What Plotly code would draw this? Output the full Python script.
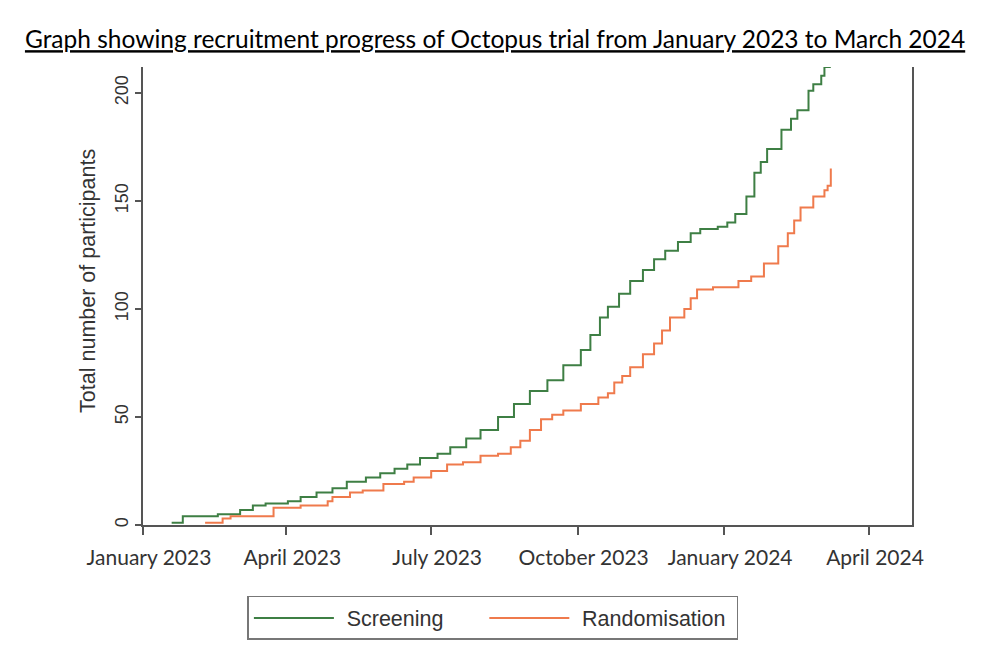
import plotly.graph_objects as go
import pandas as pd

# ---- data ----
start = pd.Timestamp("2023-01-01")

screen_day = [18, 25, 47, 61, 69, 77, 91, 99, 109, 119, 128, 140, 149, 158, 166, 174,
              185, 193, 203, 212, 223, 233, 243, 254, 264, 275, 281, 287, 292, 299, 306,
              314, 321, 328, 336, 344, 350, 361, 367, 372, 379, 384, 388, 392, 401, 407,
              411, 418, 421, 426, 428, 432]
screen_val = [1, 4, 5, 7, 9, 10, 11, 13, 15, 17, 20, 22, 24, 26, 28, 31,
              33, 36, 40, 44, 50, 56, 62, 67, 74, 81, 88, 96, 101, 107, 113,
              118, 123, 127, 131, 135, 137, 138, 140, 144, 152, 163, 168, 174, 183, 188,
              192, 201, 204, 208, 212, 212]

rand_day = [39, 50, 55, 82, 99, 116, 119, 130, 138, 151, 164, 170, 181, 191, 201, 212,
            223, 231, 237, 243, 250, 257, 264, 275, 286, 292, 296, 301, 306, 314, 321,
            326, 331, 340, 344, 348, 358, 374, 382, 390, 399, 405, 409, 413, 421, 428,
            430, 432]
rand_val = [1, 3, 4, 8, 9, 11, 13, 15, 16, 19, 20, 22, 25, 28, 29, 32,
            33, 36, 39, 44, 49, 51, 53, 56, 59, 61, 66, 69, 73, 79, 84,
            90, 96, 100, 105, 109, 110, 113, 115, 121, 129, 135, 141, 147, 152, 155,
            157, 165]

tick_dates = ["2023-01-01", "2023-04-01", "2023-07-01", "2023-10-01", "2024-01-01", "2024-04-01"]
tick_text = ["January 2023", "April 2023", "July 2023", "October 2023", "January 2024", "April 2024"]
y_ticks = [0, 50, 100, 150, 200]

screen_x = [start + pd.Timedelta(days=d) for d in screen_day]
rand_x = [start + pd.Timedelta(days=d) for d in rand_day]

GREEN = "#3e7f44"
ORANGE = "#ef7a4c"
AXIS = "#555555"
TXT = "#333333"
NB = "\u00a0"
LEAD = NB + "\u200a"

fig = go.Figure()
fig.add_trace(go.Scatter(x=screen_x, y=screen_val, mode="lines", line_shape="hv",
                         line=dict(color=GREEN, width=2), name=LEAD + "Screening" + NB * 6))
fig.add_trace(go.Scatter(x=rand_x, y=rand_val, mode="lines", line_shape="hv",
                         line=dict(color=ORANGE, width=2), name=LEAD + "Randomisation" + NB))

# page body has an 8px margin: shrink the figure to keep the plot area in place
fig.update_layout(
    width=992, height=658,
    margin=dict(l=135, r=88, t=59, b=141),
    paper_bgcolor="white", plot_bgcolor="white",
    showlegend=True,
    title=dict(text="<u>Graph showing recruitment progress of Octopus trial from January 2023 to March 2024</u>",
               x=0.491, xanchor="center", y=0.952, yanchor="middle", xref="container", yref="container",
               font=dict(family="Lato", size=24.5, color="black")),
    legend=dict(orientation="h", x=0.455, xanchor="center", y=-0.155, yanchor="top",
                xref="paper", yref="paper",
                bordercolor="#777777", borderwidth=1.5, bgcolor="white",
                font=dict(family="Liberation Sans", size=21.5, color=TXT),
                itemwidth=80),
)

fig.update_xaxes(
    type="date", range=["2023-01-01", "2024-04-28"],
    tickvals=tick_dates, ticktext=tick_text,
    ticks="outside", ticklen=8, tickwidth=1.5, tickcolor=AXIS,
    showline=True, linecolor=AXIS, linewidth=2, mirror=False,
    showgrid=False, zeroline=False,
    ticklabelstandoff=5, ticklabelshift=6,
    tickfont=dict(family="Lato", size=21, color=TXT),
)
fig.update_yaxes(
    range=[0, 212], tickvals=y_ticks,
    ticks="outside", ticklen=6, tickwidth=1.5, tickcolor=AXIS,
    showline=True, linecolor=AXIS, linewidth=2, mirror=True,
    showgrid=False, zeroline=False, tickangle=-90,
    tickfont=dict(family="Liberation Sans", size=18, color=TXT),
)

fig.add_annotation(text="Total number of participants", textangle=-90,
                   xref="paper", yref="paper", x=-0.0715, y=0.533,
                   xanchor="center", yanchor="middle", showarrow=False,
                   font=dict(family="Liberation Sans", size=21.5, color=TXT))

fig.write_html("out.html")
